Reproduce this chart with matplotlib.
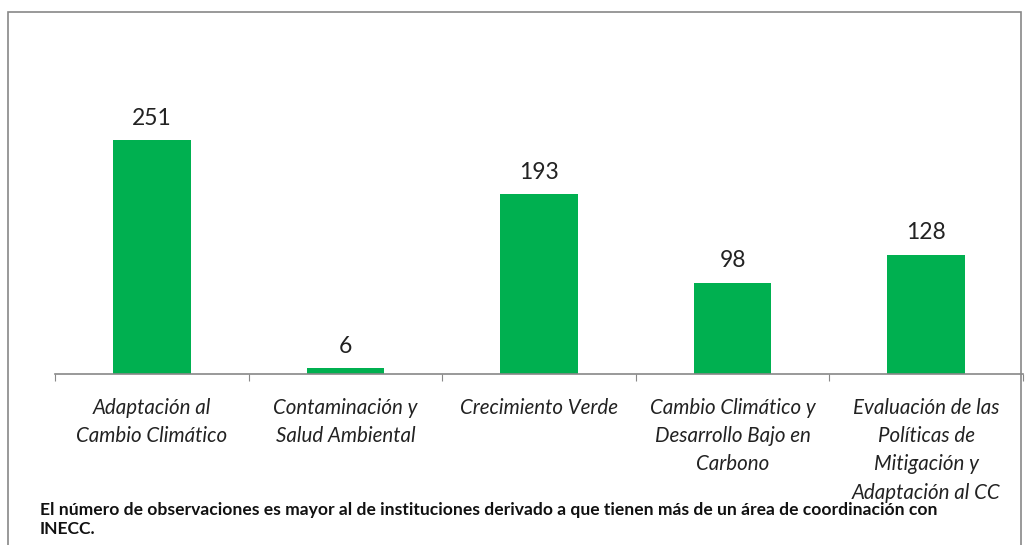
import matplotlib.pyplot as plt
from matplotlib.patches import Rectangle

categorias = [
    "Adaptación al\nCambio Climático",
    "Contaminación y\nSalud Ambiental",
    "Crecimiento Verde",
    "Cambio Climático y\nDesarrollo Bajo en\nCarbono",
    "Evaluación de las\nPolíticas de\nMitigación y\nAdaptación al CC",
]
observaciones = [251, 6, 193, 98, 128]
nota = ("El número de observaciones es mayor al de instituciones derivado a que tienen más de un área de coordinación con\n"
        "INECC.")

plt.rcParams['font.family'] = ['Lato', 'DejaVu Sans']

fig = plt.figure(figsize=(10.28, 5.45), dpi=100)
ax = fig.add_axes([55 / 1028, 1 - 374 / 545, (1023 - 55) / 1028, (374 - 12) / 545])

x = list(range(len(categorias)))
bars = ax.bar(x, observaciones, width=0.4, color='#00B050')

# Etiquetas de valor sobre cada barra
for b, v in zip(bars, observaciones):
    ax.annotate(str(v), (b.get_x() + b.get_width() / 2, v), xytext=(0, 8),
                textcoords='offset points', ha='center', va='bottom',
                fontsize=16.5, color='#222222')

ax.set_xlim(-0.5, len(categorias) - 0.5)
ax.set_ylim(0, 388)

# Marcas entre categorías y etiquetas centradas
ax.set_xticks([i - 0.5 for i in range(len(categorias) + 1)])
ax.set_xticklabels([])
ax.tick_params(axis='x', which='major', direction='out', length=5, color='#888888')
ax.set_xticks(x, minor=True)
ax.set_xticklabels(categorias, minor=True, fontsize=14.8, style='italic',
                   color='#222222', linespacing=1.52, va='top')
ax.tick_params(axis='x', which='minor', length=0, pad=17)

ax.set_yticks([])
for side in ['top', 'right', 'left']:
    ax.spines[side].set_visible(False)
ax.spines['bottom'].set_color('#888888')
ax.spines['bottom'].set_linewidth(1.2)

# Marco del gráfico
fig.patches.append(Rectangle((8 / 1028, -0.05), (1021 - 8) / 1028, 1.05 - 12 / 545,
                             transform=fig.transFigure, fill=False,
                             edgecolor='#888888', linewidth=1.2))

fig.text(40 / 1028, 1 - 502 / 545, nota, fontsize=12.6, fontweight='bold',
         color='#111111', ha='left', va='top', linespacing=1.2)

fig.savefig('out.png', dpi=100)
